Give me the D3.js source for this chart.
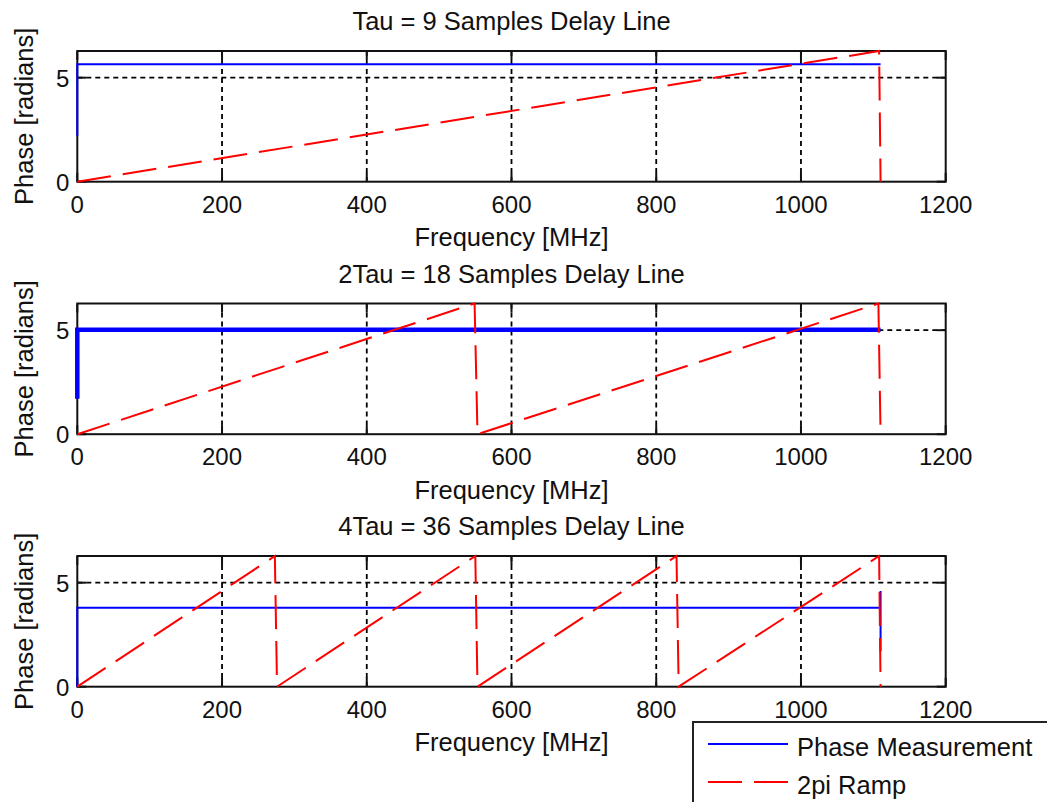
<!DOCTYPE html>
<html>
<head>
<meta charset="utf-8">
<script src="https://cdn.jsdelivr.net/npm/d3@7"></script>
<style>
  body { margin: 0; background: #fff; }
  svg text { font-family: "Liberation Sans", Arial, sans-serif; fill: #111; }
</style>
</head>
<body>
<div id="chart"></div>
<script>
// axis ticks
const freqTicks = [0, 200, 400, 600, 800, 1000, 1200];
const phaseTicks = [0, 5];
const TWO_PI = 6.2832;

const titles = [
    "Tau = 9 Samples Delay Line",
    "2Tau = 18 Samples Delay Line",
    "4Tau = 36 Samples Delay Line"
];

// Phase Measurement, [freq MHz, phase rad]
const phase1 = [[0, 2.2], [0, 5.65], [1110, 5.65]];
const phase2 = [[0, 1.7], [0, 5.02], [1110, 5.02]];
const phase3 = [[0, 0], [0, 3.8], [1110, 3.8], [1110, 4.6], [1110, 1.7]];

// 2pi Ramp, [freq MHz, phase rad]
const ramp1 = [[0, 0], [1108, TWO_PI], [1110, 0]];
const ramp2 = [[0, 0], [549, TWO_PI], [553, 0], [1107, TWO_PI], [1110, 0]];
const ramp3 = [[0, 0], [273, TWO_PI], [276, 0], [550, TWO_PI], [553, 0],
               [828, TWO_PI], [831, 0], [1108, TWO_PI], [1110, 0]];

const phaseSeries = [phase1, phase2, phase3];
const rampSeries = [ramp1, ramp2, ramp3];
const blueWidths = [2, 4.5, 2];

const W = 1047, H = 802;
const left = 77.3, right = 945.7;
const tops = [51, 303.5, 556];
const plotH = 130.7;

const svg = d3.select("#chart").append("svg")
    .attr("width", W)
    .attr("height", H);

const x = d3.scaleLinear().domain([0, 1200]).range([left, right]);

titles.forEach((title, i) => {
    const top = tops[i];
    const bottom = top + plotH;
    const y = d3.scaleLinear().domain([0, TWO_PI]).range([bottom, top]);
    const g = svg.append("g");

    // grid
    g.selectAll(".vgrid")
        .data(freqTicks.slice(1, -1))
        .enter().append("line")
        .attr("x1", d => x(d)).attr("x2", d => x(d))
        .attr("y1", top).attr("y2", bottom)
        .attr("stroke", "#000").attr("stroke-width", 1.8)
        .attr("stroke-dasharray", "5,4");
    g.selectAll(".hgrid")
        .data(phaseTicks.slice(1))
        .enter().append("line")
        .attr("x1", left).attr("x2", right)
        .attr("y1", d => y(d)).attr("y2", d => y(d))
        .attr("stroke", "#000").attr("stroke-width", 1.8)
        .attr("stroke-dasharray", "5,4");

    // box
    g.append("rect")
        .attr("x", left).attr("y", top)
        .attr("width", right - left).attr("height", plotH)
        .attr("fill", "none").attr("stroke", "#111").attr("stroke-width", 2);

    // ticks inward, all four sides
    const tl = 9;
    freqTicks.forEach(t => {
        g.append("line").attr("x1", x(t)).attr("x2", x(t))
            .attr("y1", bottom).attr("y2", bottom - tl)
            .attr("stroke", "#111").attr("stroke-width", 2);
        g.append("line").attr("x1", x(t)).attr("x2", x(t))
            .attr("y1", top).attr("y2", top + tl)
            .attr("stroke", "#111").attr("stroke-width", 2);
    });
    phaseTicks.forEach(t => {
        g.append("line").attr("x1", left).attr("x2", left + tl)
            .attr("y1", y(t)).attr("y2", y(t))
            .attr("stroke", "#111").attr("stroke-width", 2);
        g.append("line").attr("x1", right).attr("x2", right - tl)
            .attr("y1", y(t)).attr("y2", y(t))
            .attr("stroke", "#111").attr("stroke-width", 2);
    });

    // tick labels
    g.selectAll(".xl")
        .data(freqTicks)
        .enter().append("text")
        .attr("x", d => x(d))
        .attr("y", bottom + 31)
        .attr("text-anchor", "middle")
        .style("font-size", "24px")
        .text(d => d);
    g.selectAll(".yl")
        .data(phaseTicks)
        .enter().append("text")
        .attr("x", left - 8)
        .attr("y", d => y(d) + 9)
        .attr("text-anchor", "end")
        .style("font-size", "24px")
        .text(d => d);

    // title and labels
    g.append("text")
        .attr("x", (left + right) / 2)
        .attr("y", top - 21)
        .attr("text-anchor", "middle")
        .style("font-size", "25.5px")
        .text(title);
    g.append("text")
        .attr("x", (left + right) / 2)
        .attr("y", bottom + 64.5)
        .attr("text-anchor", "middle")
        .style("font-size", "25.5px")
        .text("Frequency [MHz]");
    g.append("text")
        .attr("transform", `translate(33,${(top + bottom) / 2}) rotate(-90)`)
        .attr("text-anchor", "middle")
        .style("font-size", "25.5px")
        .text("Phase [radians]");

    const line = d3.line().x(d => x(d[0])).y(d => y(d[1]));

    g.append("path")
        .datum(phaseSeries[i])
        .attr("d", line)
        .attr("fill", "none")
        .attr("stroke", "#0000ff")
        .attr("stroke-width", blueWidths[i]);

    g.append("path")
        .datum(rampSeries[i])
        .attr("d", line)
        .attr("fill", "none")
        .attr("stroke", "#ff0000")
        .attr("stroke-width", 2)
        .attr("stroke-dasharray", "34,12");
});

// legend
const legend = svg.append("g");
legend.append("rect")
    .attr("x", 693).attr("y", 722)
    .attr("width", 400).attr("height", 120)
    .attr("fill", "#fff").attr("stroke", "#222").attr("stroke-width", 2);
const legendItems = [
    { label: "Phase Measurement", color: "#0000ff", dash: null },
    { label: "2pi Ramp", color: "#ff0000", dash: "34,12" }
];
legendItems.forEach((d, k) => {
    const ly = 744 + k * 38;
    legend.append("line")
        .attr("x1", 708).attr("x2", 788)
        .attr("y1", ly).attr("y2", ly)
        .attr("stroke", d.color).attr("stroke-width", 2)
        .attr("stroke-dasharray", d.dash);
    legend.append("text")
        .attr("x", 797).attr("y", ly + 12)
        .style("font-size", "25.5px")
        .text(d.label);
});
</script>
</body>
</html>
